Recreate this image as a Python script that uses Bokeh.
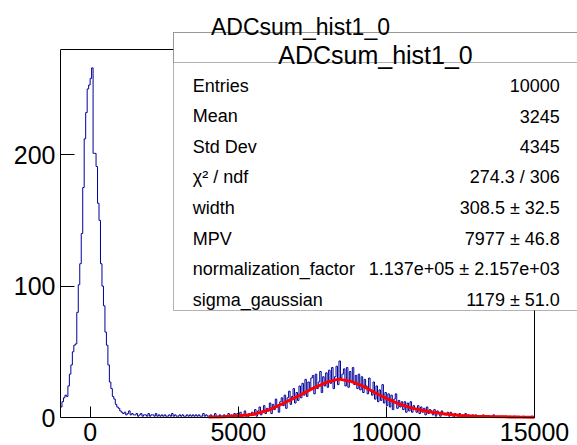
from bokeh.plotting import figure
from bokeh.models import Range1d, BoxAnnotation, Label, FixedTicker
from bokeh.embed import file_html
from bokeh.resources import INLINE
import numpy as np

# ---------------- data ----------------
BIN_START = -1000
BIN_WIDTH = 50
counts = [
    # -1000 .. 1000
    8, 12, 15, 17, 16, 24, 33, 40, 50, 55,
    56, 80, 101, 117, 140, 175, 212, 232, 250, 253,
    258, 266, 201, 201, 191, 163, 150, 117, 100, 85,
    65, 55, 40, 27, 22, 16, 14, 10, 8, 7,
    # 1000 .. 4000
    5, 4, 3, 4, 2, 3, 5, 2, 3, 2,
    2, 3, 1, 2, 3, 1, 2, 2, 1, 3,
    1, 2, 2, 1, 3, 1, 2, 1, 2, 1,
    2, 1, 1, 2, 1, 3, 1, 2, 1, 1,
    2, 1, 2, 1, 1, 2, 1, 2, 1, 2,
    1, 2, 1, 2, 1, 1, 3, 1, 2, 1,
    # 4000 .. 15000
    1, 2, 0, 1, 3, 1, 0, 2, 1, 1,
    2, 1, 0, 3, 0, 2, 1, 3, 1, 3,
    2, 4, 1, 2, 5, 1, 0, 3, 2, 4,
    3, 6, 1, 5, 8, 2, 5, 9, 3, 7,
    5, 11, 3, 10, 6, 14, 8, 4, 12, 15,
    9, 17, 7, 15, 20, 10, 16, 22, 11, 19,
    13, 24, 15, 26, 17, 29, 16, 27, 21, 30,
    32, 18, 33, 22, 27, 35, 19, 31, 24, 34,
    23, 36, 26, 38, 22, 31, 39, 25, 43, 30,
    33, 37, 24, 38, 23, 35, 27, 38, 25, 32,
    22, 33, 21, 31, 19, 29, 24, 18, 30, 21,
    17, 27, 14, 24, 12, 21, 13, 25, 11, 19,
    9, 18, 8, 17, 6, 14, 18, 7, 13, 8,
    12, 6, 12, 4, 11, 5, 12, 4, 9, 6,
    4, 9, 3, 8, 4, 7, 2, 8, 3, 6,
    5, 2, 6, 1, 5, 3, 1, 5, 3, 2,
    2, 4, 1, 4, 2, 0, 3, 2, 1, 3,
    1, 2, 0, 3, 1, 2, 0, 1, 2, 1,
    2, 0, 1, 1, 0, 2, 1, 0, 1, 1,
    0, 1, 2, 0, 1, 0, 1, 0, 1, 0,
    1, 0, 0, 1, 0, 0, 1, 0, 0, 0,
    0, 0, 1, 0, 0, 0, 0, 0, 1, 0,
]

fit_x = [4000, 4500, 5000, 5500, 6000, 6500, 7000, 7500, 8000, 8400,
         8800, 9200, 9600, 10000, 10400, 10800, 11200, 11600, 12000,
         12500, 13000, 13500, 14000, 14500, 15000]
fit_y = [0.3, 0.6, 1.3, 2.3, 5.5, 10.5, 16, 22, 27, 29.2,
         27.5, 24, 19, 14.5, 10.5, 7.5, 5.5, 3.8, 2.6,
         1.6, 1.0, 0.7, 0.5, 0.3, 0.2]

x_ticks = [0, 5000, 10000, 15000]
y_ticks = [0, 100, 200]

title_text = "ADCsum_hist1_0"
stat_names = ["Entries", "Mean", "Std Dev", "\u03c7\u00b2 / ndf", "width", "MPV",
              "normalization_factor", "sigma_gaussian"]
stat_values = ["10000", "3245", "4345", "274.3 / 306", "308.5 \u00b1 32.5",
               "7977 \u00b1 46.8", "1.137e+05 \u00b1 2.157e+03", "1179 \u00b1 51.0"]

# ---------------- layout (canvas pixels) ----------------
W, H = 577, 445
FL, FR, FT, FB = 60, 534, 49, 417      # the drawn histogram frame
X0, X1 = -1000, 15000
Y0, Y1 = 0, 280
FONT = "Liberation Sans"


def xd(px):
    return X0 + (px - FL) * (X1 - X0) / (FR - FL)


def yd(py):
    return Y0 + (FB - py) * (Y1 - Y0) / (FB - FT)


# Bokeh frame covers the whole canvas right of the y axis, so that
# the stats box, title and x axis (fixed at y=0) are not clipped.
p = figure(width=W, height=H, x_range=Range1d(X0, xd(W)), y_range=Range1d(yd(H), yd(0)),
           output_backend="svg", toolbar_location=None,
           min_border_left=FL, min_border_right=0, min_border_top=0,
           min_border_bottom=0)
p.grid.visible = False
p.background_fill_color = "white"
p.border_fill_color = "white"
p.outline_line_color = None

for ax in (p.xaxis[0], p.yaxis[0]):
    ax.axis_line_color = "black"
    ax.axis_line_width = 1
    ax.major_tick_line_color = "black"
    ax.minor_tick_line_color = None
    ax.major_tick_out = 0
    ax.major_label_text_font = FONT
    ax.major_label_text_font_size = "25px"
    ax.major_label_text_color = "black"
p.xaxis[0].ticker = FixedTicker(ticks=x_ticks)
p.yaxis[0].ticker = FixedTicker(ticks=y_ticks)
p.xaxis[0].bounds = (X0, X1)
p.yaxis[0].bounds = (Y0, Y1)
p.xaxis[0].fixed_location = Y0
p.xaxis[0].major_tick_in = 11
p.yaxis[0].major_tick_in = 14
p.xaxis[0].major_label_standoff = 5
p.yaxis[0].major_label_standoff = 5

# top and right edges of the histogram frame
p.line([X0, X1, X1], [Y1, Y1, Y0], line_color="black", line_width=1)

# histogram as step outline
c = np.array(counts, dtype=float)
edges = BIN_START + BIN_WIDTH * np.arange(len(c) + 1)
sx = np.repeat(edges, 2)[1:-1]
sy = np.repeat(c, 2)
p.line(sx, sy, line_color="#000099", line_width=1)

# fit curve
p.line(fit_x, fit_y, line_color="#ff0000", line_width=3)

# stats box
BL, BR, BT, BB, BD = 173, 590, 32, 310, 62
p.add_layout(BoxAnnotation(left=xd(BL), right=xd(BR), top=yd(BT), bottom=yd(BB),
                           fill_color="white", fill_alpha=1.0,
                           line_color="black", line_width=1))
p.add_layout(BoxAnnotation(left=xd(BL), right=xd(BR), top=yd(BT), bottom=yd(BD),
                           fill_color="white", fill_alpha=1.0,
                           line_color="black", line_width=1))

p.add_layout(Label(x=xd(300), y=yd(26.7), text=title_text, text_font=FONT,
                   text_font_size="23px", text_align="center",
                   text_baseline="alphabetic", text_color="black"))
p.add_layout(Label(x=xd(375), y=yd(54.5), text=title_text, text_font=FONT,
                   text_font_size="25px", text_align="center",
                   text_baseline="alphabetic", text_color="black"))

row0, dy = 85.0, 30.6
for i, (n, v) in enumerate(zip(stat_names, stat_values)):
    by = row0 + i * dy
    p.add_layout(Label(x=xd(192.3), y=yd(by), text=n, text_font=FONT,
                       text_font_size="18px", text_align="left",
                       text_baseline="alphabetic", text_color="black"))
    p.add_layout(Label(x=xd(559.3), y=yd(by), text=v, text_font=FONT,
                       text_font_size="18px", text_align="right",
                       text_baseline="alphabetic", text_color="black"))

open("out.html", "w").write(file_html(p, INLINE))
